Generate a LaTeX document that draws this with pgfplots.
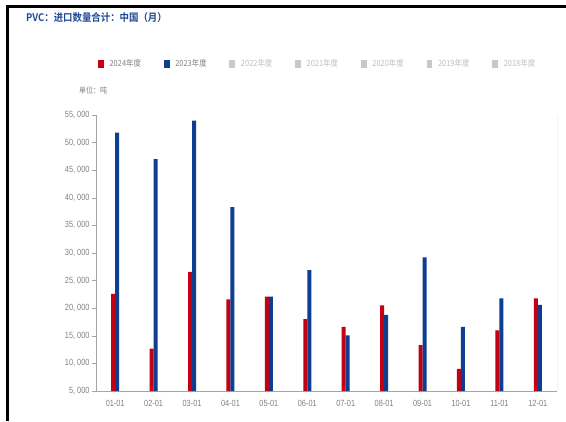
\documentclass[border=0pt]{standalone}
\usepackage{pgfplots}
\pgfplotsset{compat=1.18}
\usepackage{fontspec}
\setmainfont{Liberation Sans}
\newfontfamily\narrowfont[FakeStretch=0.82]{Liberation Sans}
\newfontfamily\cjk[FakeStretch=0.88]{Noto Sans CJK SC}
\newfontfamily\cjkbold[FakeStretch=0.9]{Noto Sans CJK SC Bold}

\definecolor{barred}{RGB}{196,0,18}
\definecolor{barblue}{RGB}{14,62,143}
\definecolor{titleblue}{RGB}{30,72,150}
\definecolor{axisgray}{RGB}{165,165,165}
\definecolor{labelgray}{RGB}{128,128,128}
\definecolor{fadegray}{RGB}{190,190,190}
\definecolor{fadebox}{RGB}{200,200,200}

\pgfplotsset{sq/.style={legend image code/.code={\fill[##1] (0pt,-3.8pt) rectangle (5.8pt,3.8pt); \path (9.6pt,0pt);}}}

% monthly import volume, tonnes
\pgfplotstableread{
x   y24    y23
0   22600  51800
1   12700  47000
2   26600  54000
3   21600  38300
4   22100  22100
5   18000  26900
6   16600  15100
7   20500  18800
8   13300  29200
9    9000  16600
10  16000  21800
11  21800  20600
}\imports

\begin{document}
\begin{tikzpicture}[x=1bp,y=1bp]
\path[use as bounding box] (0,0) rectangle (566,421);
% frame
\draw[black, line width=2.4bp] (7.5,0) -- (7.5,414.5) -- (566,414.5);
% title
\node[anchor=west, inner sep=0pt, text=titleblue] at (26,403)
  {\cjkbold\fontsize{10.5}{12}\selectfont PVC：进口数量合计：中国（月）};
% unit
\node[anchor=west, inner sep=0pt, text=labelgray] at (79,331)
  {\cjk\fontsize{8}{9}\selectfont 单位：吨};

\begin{axis}[
  at={(96bp,30bp)}, anchor=south west,
  scale only axis, width=461bp, height=276bp,
  xmin=-0.5, xmax=11.5, ymin=5000, ymax=55000,
  axis x line*=bottom, axis y line*=left,
  axis line style={axisgray, line width=0.6bp},
  ybar, bar width=4bp,
  xtick={0,...,11},
  xticklabels={01-01,02-01,03-01,04-01,05-01,06-01,07-01,08-01,09-01,10-01,11-01,12-01},
  minor xtick={-0.5,0.5,...,11.5},
  xtick style={draw=none},
  minor x tick style={axisgray, line width=0.6bp},
  minor tick length=4.5bp,
  ytick={5000,10000,...,55000},
  scaled y ticks=false,
  yticklabels={{5, 000},{10, 000},{15, 000},{20, 000},{25, 000},{30, 000},{35, 000},{40, 000},{45, 000},{50, 000},{55, 000}},
  y tick style={axisgray, line width=0.6bp},
  major tick length=4bp,
  tick align=outside,
  ticklabel style={font=\narrowfont\fontsize{9}{10}\selectfont, text=labelgray},
  xticklabel style={yshift=-2bp},
  yticklabel style={xshift=1bp},
  legend columns=7,
  legend style={at={(0.004,1.185)}, anchor=west, draw=none, fill=none,
    inner sep=0pt, font=\cjk\fontsize{8.5}{10}\selectfont,
    /tikz/every even column/.append style={column sep=20.7bp}},
  legend cell align=left,
]
\addplot[fill=barred, draw=none, bar shift=-2bp, sq] table[x=x, y=y24] {\imports};
\addlegendentry{\textcolor{labelgray}{2024年度}}
\addplot[fill=barblue, draw=none, bar shift=2bp, sq] table[x=x, y=y23] {\imports};
\addlegendentry{\textcolor{labelgray}{2023年度}}
\addlegendimage{fill=fadebox, draw=none, sq}
\addlegendentry{\textcolor{fadegray}{2022年度}}
\addlegendimage{fill=fadebox, draw=none, sq}
\addlegendentry{\textcolor{fadegray}{2021年度}}
\addlegendimage{fill=fadebox, draw=none, sq}
\addlegendentry{\textcolor{fadegray}{2020年度}}
\addlegendimage{fill=fadebox, draw=none, sq}
\addlegendentry{\textcolor{fadegray}{2019年度}}
\addlegendimage{fill=fadebox, draw=none, sq}
\addlegendentry{\textcolor{fadegray}{2018年度}}
\draw[axisgray, line width=0.6bp] (rel axis cs:1,0) -- (rel axis cs:1,1.008);
\end{axis}
\end{tikzpicture}
\end{document}
